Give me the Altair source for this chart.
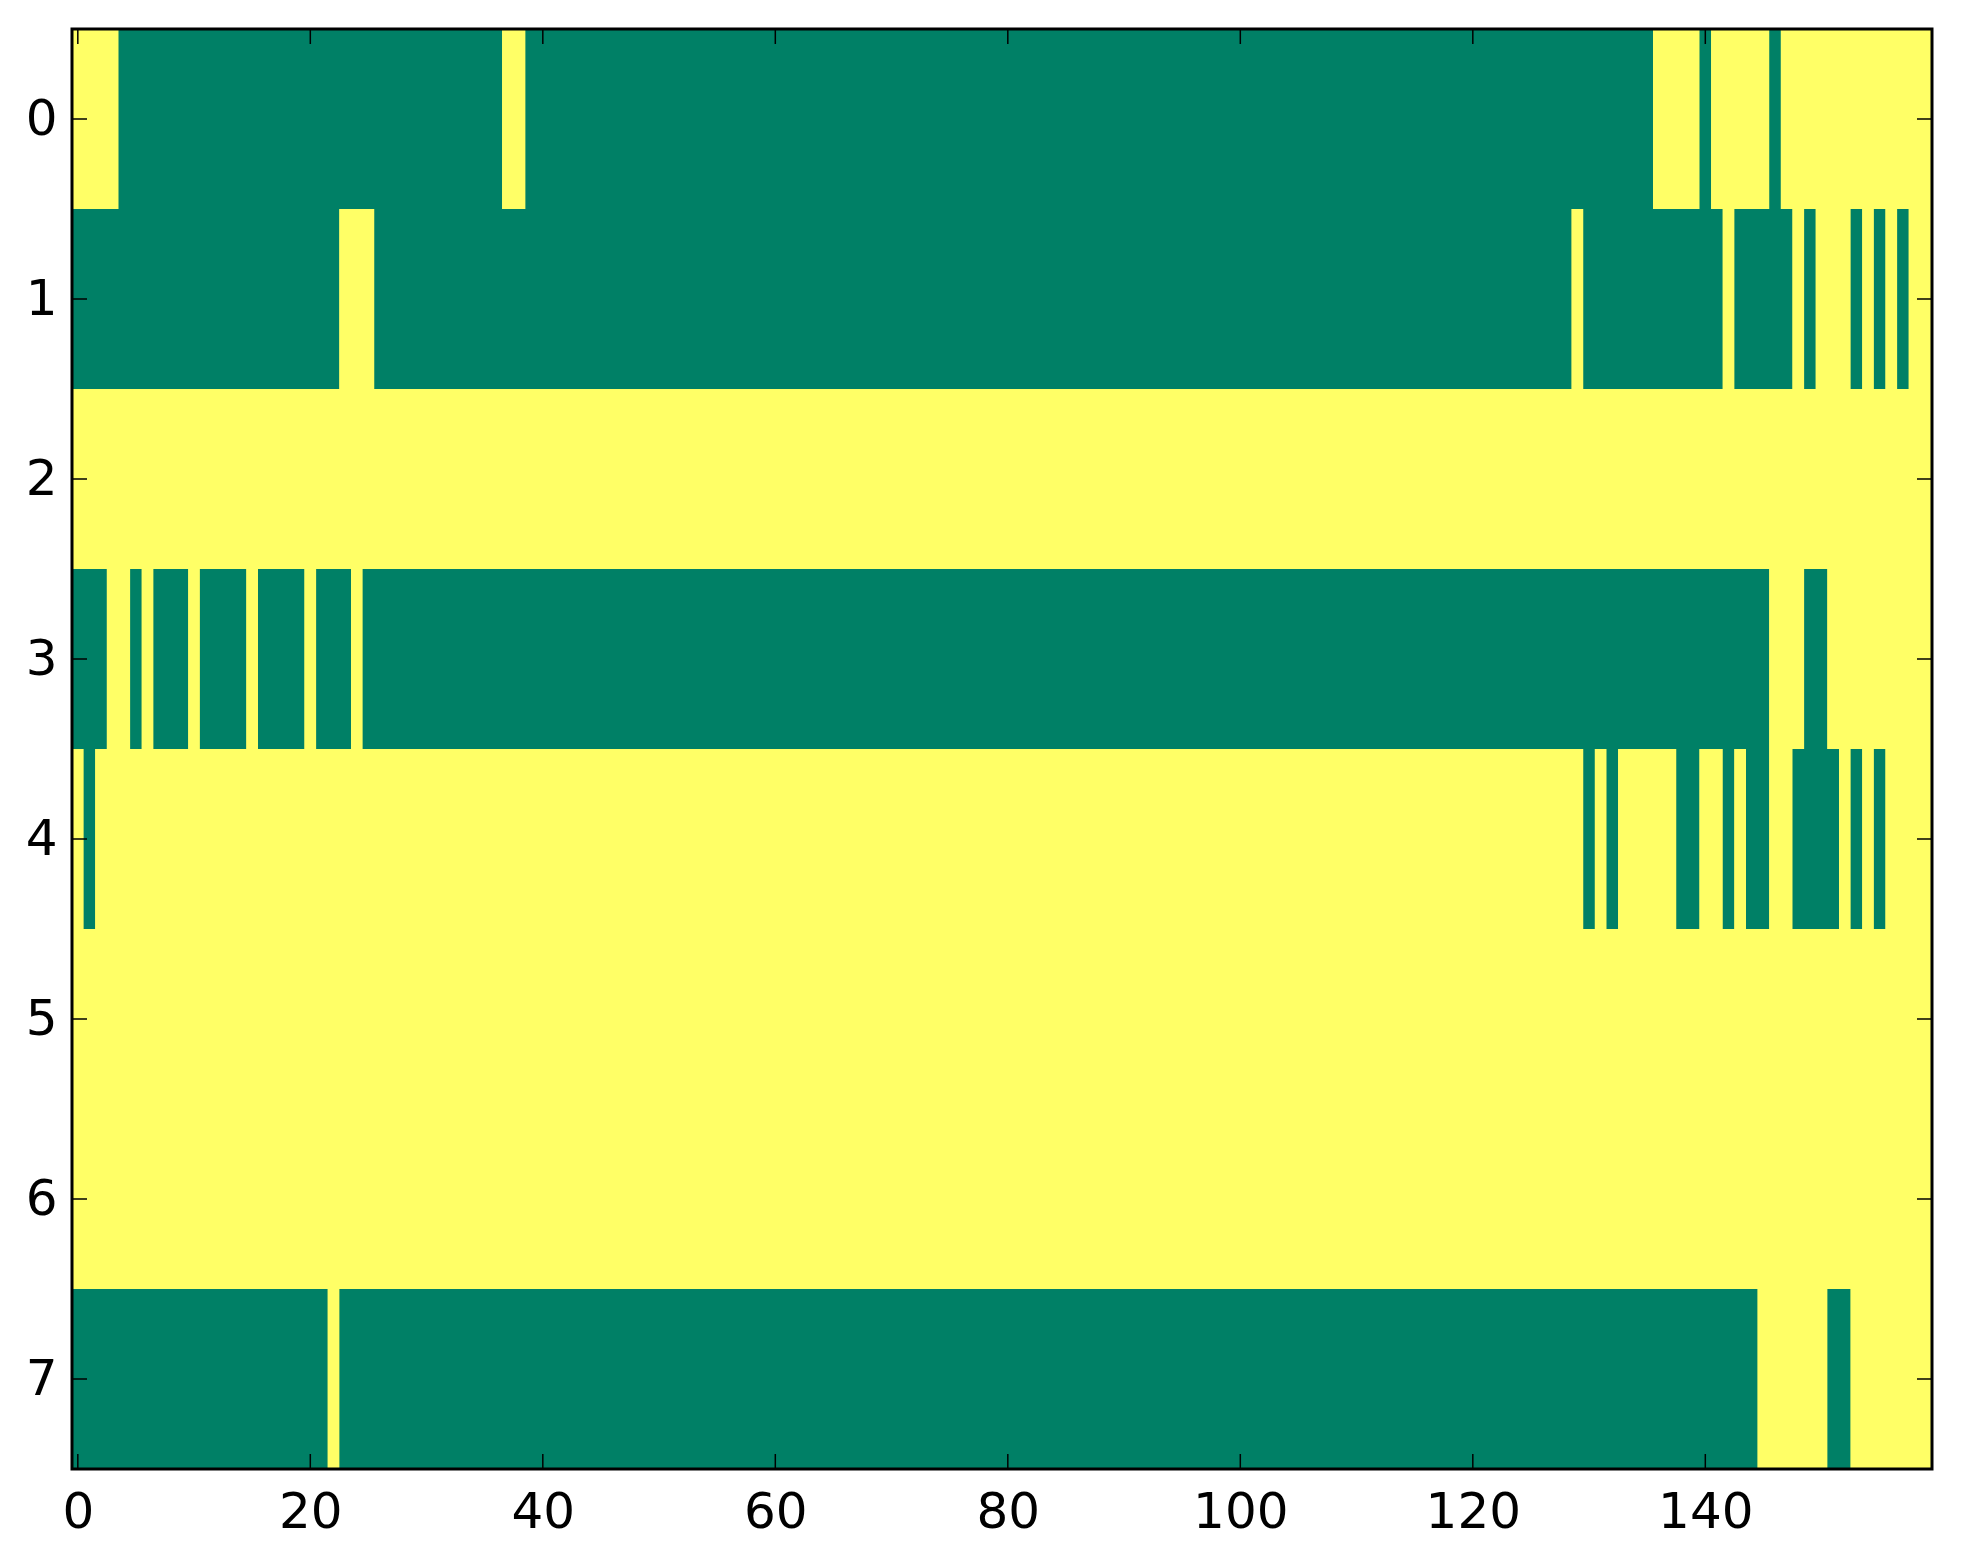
import altair as alt
import pandas as pd

GREEN = "#008066"
YELLOW = "#ffff66"

n_cols = 160
row_ticks = [0, 1, 2, 3, 4, 5, 6, 7]
x_ticks = [0, 20, 40, 60, 80, 100, 120, 140]

# run lengths along each row, colours alternate; first_value: 1 = yellow, 0 = green
first_value = [1, 0, 1, 0, 1, 1, 1, 0]
row0 = [4, 33, 2, 97, 4, 1, 5, 1, 13]
row1 = [23, 3, 103, 1, 12, 1, 5, 1, 1, 3, 1, 1, 1, 1, 1, 2]
row2 = [160]
row3 = [3, 2, 1, 1, 3, 1, 4, 1, 4, 1, 3, 1, 121, 3, 2, 9]
row4 = [1, 1, 128, 1, 1, 1, 5, 2, 2, 1, 1, 2, 2, 4, 1, 1, 1, 1, 4]
row5 = [160]
row6 = [160]
row7 = [22, 1, 122, 6, 2, 7]
rows = [row0, row1, row2, row3, row4, row5, row6, row7]

W, H = 1860, 1440

records = []
for r, (runs, v) in enumerate(zip(rows, first_value)):
    start = 0
    for n in runs:
        records.append({"x0": start - 0.5, "x1": start + n - 0.5,
                        "y0": r - 0.5, "y1": r + 0.5, "v": v})
        start += n
        v = 1 - v
cells = pd.DataFrame(records)

x_scale = alt.Scale(domain=[-0.5, n_cols - 0.5], nice=False, zero=False)
y_scale = alt.Scale(domain=[-0.5, 7.5], reverse=True, nice=False, zero=False)
x_axis = alt.Axis(
    values=x_ticks, ticks=False, tickSize=0, domain=False, grid=False,
    labelFontSize=50, labelFont="DejaVu Sans", labelColor="black",
    labelPadding=18, labelFlush=False, labelOverlap=False, title=None)
y_axis = alt.Axis(
    values=row_ticks, ticks=False, tickSize=0, domain=False, grid=False,
    labelFontSize=50, labelFont="DejaVu Sans", labelColor="black",
    labelPadding=15, labelFlush=False, labelOverlap=False, title=None)

heat = alt.Chart(cells).mark_rect(strokeWidth=0).encode(
    x=alt.X("x0:Q", scale=x_scale, axis=x_axis),
    x2="x1:Q",
    y=alt.Y("y0:Q", scale=y_scale, axis=y_axis),
    y2="y1:Q",
    color=alt.Color("v:N", scale=alt.Scale(domain=[0, 1], range=[GREEN, YELLOW]), legend=None),
)

# inward ticks on all four sides (matplotlib classic look)
xt = pd.DataFrame({"x0": x_ticks})
yt = pd.DataFrame({"y0": row_ticks})
tick_len = 15
tick = dict(color="black", strokeWidth=1.5)

bottom = alt.Chart(xt).mark_rule(**tick).encode(
    x=alt.X("x0:Q", scale=x_scale, axis=x_axis), y=alt.value(H), y2=alt.value(H - tick_len))
top = alt.Chart(xt).mark_rule(**tick).encode(
    x=alt.X("x0:Q", scale=x_scale, axis=x_axis), y=alt.value(0), y2=alt.value(tick_len))
left = alt.Chart(yt).mark_rule(**tick).encode(
    y=alt.Y("y0:Q", scale=y_scale, axis=y_axis), x=alt.value(0), x2=alt.value(tick_len))
right = alt.Chart(yt).mark_rule(**tick).encode(
    y=alt.Y("y0:Q", scale=y_scale, axis=y_axis), x=alt.value(W - tick_len), x2=alt.value(W))

frame = alt.Chart(pd.DataFrame({"a": [0]})).mark_rect(
    fillOpacity=0, stroke="black", strokeWidth=3).encode(
    x=alt.value(0), x2=alt.value(W), y=alt.value(0), y2=alt.value(H))

chart = alt.layer(heat, bottom, top, left, right, frame).properties(
    width=W, height=H,
    padding={"left": 64, "top": 21, "right": 20, "bottom": 85},
    autosize=alt.AutoSizeParams(type="none"),
    background="white",
).configure_view(fill=YELLOW, stroke="transparent")

chart.save("out.html", embed_options={"renderer": "svg", "actions": False})
